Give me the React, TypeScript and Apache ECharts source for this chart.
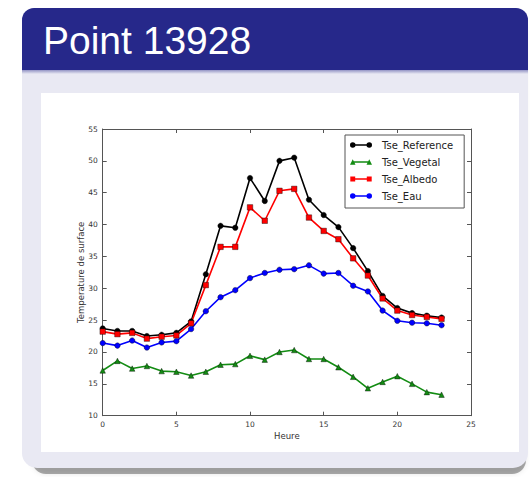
import React, { useEffect, useRef } from "react";
import * as echarts from "echarts";

const hours = [0, 1, 2, 3, 4, 5, 6, 7, 8, 9, 10, 11, 12, 13, 14, 15, 16, 17, 18, 19, 20, 21, 22, 23];
const tseReference = [23.7, 23.3, 23.3, 22.5, 22.7, 23.0, 24.8, 32.2, 39.8, 39.5, 47.3, 43.7, 50.0, 50.5, 43.9, 41.5, 39.6, 36.3, 32.7, 28.8, 26.9, 26.1, 25.7, 25.4];
const tseVegetal = [17.1, 18.6, 17.4, 17.8, 17.0, 16.9, 16.3, 16.9, 18.0, 18.1, 19.4, 18.8, 20.0, 20.3, 18.9, 18.9, 17.6, 16.1, 14.3, 15.3, 16.2, 15.0, 13.7, 13.3];
const tseAlbedo = [23.2, 22.8, 23.0, 22.1, 22.4, 22.6, 24.5, 30.5, 36.5, 36.5, 42.7, 40.6, 45.3, 45.6, 41.1, 39.0, 37.7, 34.7, 32.0, 28.4, 26.5, 25.8, 25.5, 25.2];
const tseEau = [21.4, 21.0, 21.8, 20.7, 21.5, 21.7, 23.6, 26.4, 28.6, 29.7, 31.6, 32.4, 32.9, 33.0, 33.6, 32.3, 32.4, 30.4, 29.5, 26.5, 24.9, 24.6, 24.5, 24.2];
const seriesNames = ["Tse_Reference", "Tse_Vegetal", "Tse_Albedo", "Tse_Eau"];
const seriesColors = ["#000000", "#138c13", "#ff0000", "#0000ff"];
const seriesSymbols = ["circle", "triangle", "rect", "circle"];
const titleText = "Point 13928";
const xAxisTitle = "Heure";
const yAxisTitle = "Temperature de surface";

const LINE = "M2,2.3 L20,2.3 L20,3.7 L2,3.7 Z ";
const CIRC = "M0,3 A2.75,2.75 0 1 1 5.5,3 A2.75,2.75 0 1 1 0,3 Z M16.5,3 A2.75,2.75 0 1 1 22,3 A2.75,2.75 0 1 1 16.5,3 Z";
const TRI = "M0,5.75 L2.75,0.25 L5.5,5.75 Z M16.5,5.75 L19.25,0.25 L22,5.75 Z";
const SQR = "M0.3,0.55 L5.2,0.55 L5.2,5.45 L0.3,5.45 Z M16.8,0.55 L21.7,0.55 L21.7,5.45 L16.8,5.45 Z M0,0.25 L0.01,0.25 L0.01,0.26 Z M21.99,5.74 L22,5.74 L22,5.75 Z";
const legendIcons = ["path://" + LINE + CIRC, "path://" + LINE + TRI, "path://" + LINE + SQR, "path://" + LINE + CIRC];

export default function App() {
  const ref = useRef<HTMLDivElement>(null);
  useEffect(() => {
    document.body.style.margin = "0";
    if (!ref.current) return;
    const chart = echarts.init(ref.current, null, { renderer: "svg", width: 530, height: 477 });
    const axisColor = "#555555";
    const font = "DejaVu Sans";
    const tickLabel = { fontSize: 7.5, color: "#333333", fontFamily: font };
    const dataSets = [tseReference, tseVegetal, tseAlbedo, tseEau];
    const option: any = {
      animation: false,
      backgroundColor: "#ffffff",
      graphic: {
        elements: [
          {
            type: "rect",
            z: -10,
            shape: { x: 32, y: 20, width: 494, height: 454, r: 14 },
            style: { fill: "rgba(0,0,0,0.32)", shadowBlur: 5, shadowColor: "rgba(0,0,0,0.3)" },
          },
          {
            type: "rect",
            z: -9,
            shape: { x: 22, y: 8, width: 506, height: 460, r: [12, 12, 15, 15] },
            style: { fill: "#e9e9f3" },
          },
          {
            type: "rect",
            z: -8,
            shape: { x: 22, y: 8, width: 506, height: 62, r: [12, 12, 0, 0] },
            style: { fill: "#26288a" },
          },
          {
            type: "rect",
            z: -8,
            shape: { x: 22, y: 69, width: 506, height: 5 },
            style: {
              fill: new echarts.graphic.LinearGradient(0, 0, 0, 1, [
                { offset: 0, color: "rgba(38,40,138,0.55)" },
                { offset: 1, color: "rgba(38,40,138,0)" },
              ]),
            },
          },
          {
            type: "rect",
            z: -7,
            shape: { x: 41, y: 93, width: 478, height: 359 },
            style: { fill: "#ffffff" },
          },
          {
            type: "text",
            z: -6,
            x: 43,
            y: 40,
            style: {
              text: titleText,
              fill: "#ffffff",
              fontSize: 39,
              fontFamily: "Liberation Sans",
              verticalAlign: "middle",
              align: "left",
            },
          },
        ],
      },
      grid: { left: 102.7, top: 129, width: 368.3, height: 286.7, show: false },
      legend: {
        orient: "vertical",
        left: 345,
        top: 135,
        padding: [4, 11, 6, 5],
        borderColor: axisColor,
        borderWidth: 1,
        borderRadius: 0,
        backgroundColor: "#ffffff",
        itemWidth: 22,
        itemHeight: 5.5,
        itemGap: 5,
        selectedMode: false,
        itemStyle: { borderWidth: 0 },
        textStyle: { fontSize: 10, lineHeight: 12, color: "#222222", fontFamily: font, padding: [0, 0, 0, 5] },
        data: seriesNames.map((n, i) => ({ name: n, icon: legendIcons[i] })),
      },
      xAxis: [
        {
          type: "value",
          min: 0,
          max: 25,
          interval: 5,
          position: "bottom",
          name: xAxisTitle,
          nameLocation: "middle",
          nameGap: 16,
          nameMoveOverlap: false,
          nameTextStyle: { fontSize: 8.5, color: "#333333", fontFamily: font },
          axisLine: { show: true, onZero: false, lineStyle: { color: axisColor, width: 1 } },
          axisTick: { show: true, inside: true, length: 4, lineStyle: { color: axisColor } },
          axisLabel: { ...tickLabel, margin: 5, showMinLabel: true, showMaxLabel: true },
          splitLine: { show: false },
        },
        {
          type: "value",
          min: 0,
          max: 25,
          interval: 5,
          position: "top",
          axisLine: { show: true, onZero: false, lineStyle: { color: axisColor, width: 1 } },
          axisTick: { show: true, inside: true, length: 4, lineStyle: { color: axisColor } },
          axisLabel: { show: false },
          splitLine: { show: false },
        },
      ],
      yAxis: [
        {
          type: "value",
          min: 10,
          max: 55,
          interval: 5,
          position: "left",
          name: yAxisTitle,
          nameLocation: "middle",
          nameGap: 17,
          nameMoveOverlap: false,
          nameTextStyle: { fontSize: 8.5, color: "#333333", fontFamily: font },
          axisLine: { show: true, onZero: false, lineStyle: { color: axisColor, width: 1 } },
          axisTick: { show: true, inside: true, length: 4, lineStyle: { color: axisColor } },
          axisLabel: { ...tickLabel, margin: 5, showMinLabel: true, showMaxLabel: true },
          splitLine: { show: false },
        },
        {
          type: "value",
          min: 10,
          max: 55,
          interval: 5,
          position: "right",
          axisLine: { show: true, onZero: false, lineStyle: { color: axisColor, width: 1 } },
          axisTick: { show: true, inside: true, length: 4, lineStyle: { color: axisColor } },
          axisLabel: { show: false },
          splitLine: { show: false },
        },
      ],
      series: seriesNames.map((name, i) => ({
        name,
        type: "line",
        xAxisIndex: 0,
        yAxisIndex: 0,
        data: hours.map((h, j) => [h, dataSets[i][j]]),
        symbol: seriesSymbols[i],
        symbolSize: 5.5,
        showAllSymbol: true,
        lineStyle: { color: seriesColors[i], width: 1.6 },
        itemStyle: { color: seriesColors[i], borderColor: "#000000", borderWidth: 0.4 },
        emphasis: { disabled: true },
      })),
    };
    chart.setOption(option);
    return () => chart.dispose();
  }, []);
  return <div ref={ref} style={{ width: 530, height: 477, position: "absolute", left: 0, top: 0 }} />;
}
